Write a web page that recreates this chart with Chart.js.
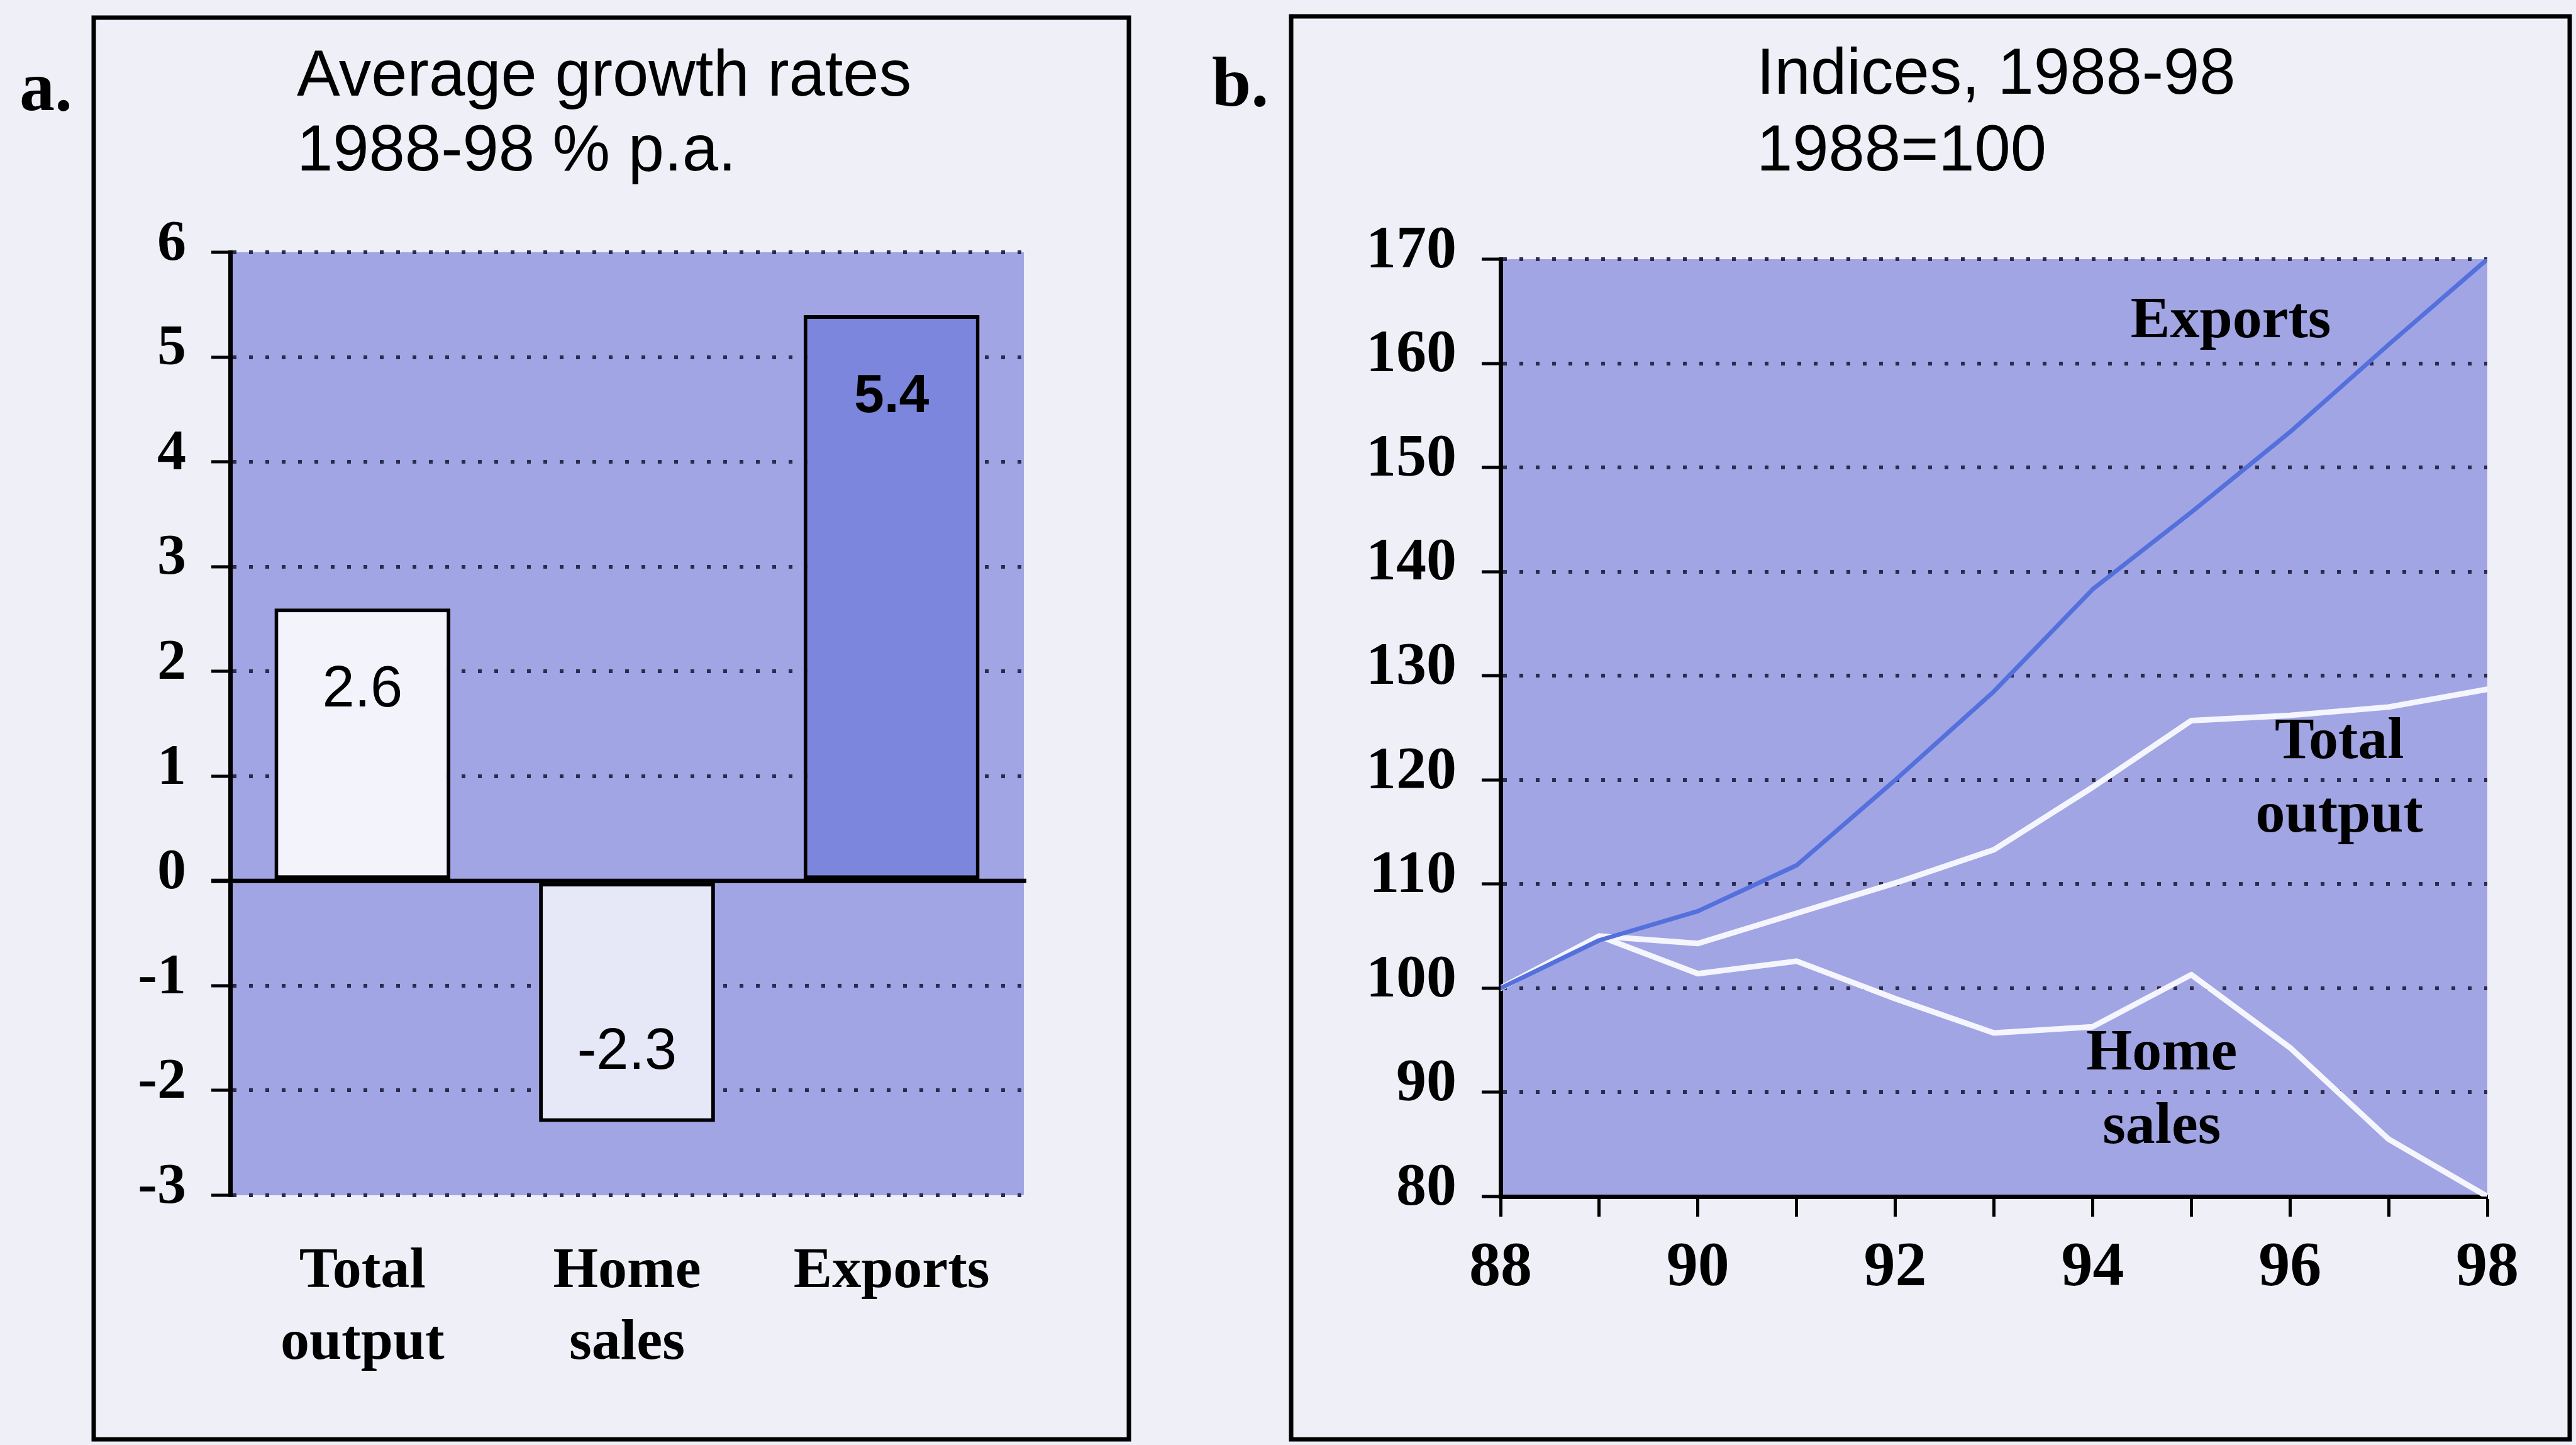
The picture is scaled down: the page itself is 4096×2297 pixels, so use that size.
<!DOCTYPE html>
<html>
<head>
<meta charset="utf-8">
<title>Growth rates and indices, 1988-98</title>
<script src="https://cdn.jsdelivr.net/npm/chart.js@4.4.1/dist/chart.umd.min.js"></script>
<style>
  html, body { margin: 0; padding: 0; width: 4096px; height: 2297px; overflow: hidden; background: #efeff8; }
  canvas { position: absolute; top: 0; }
  #growth { left: 0; }
  #indices { left: 1880px; }
</style>
</head>
<body>
<canvas id="growth" width="1880" height="2297"></canvas>
<canvas id="indices" width="2216" height="2297"></canvas>
<script>
// ---- Panel a: average growth rates 1988-98, % p.a. ----
const growthCategories = [['Total', 'output'], ['Home', 'sales'], ['Exports']];
const growthRates = [2.6, -2.3, 5.4];
const growthTickValues = [-3, -2, -1, 0, 1, 2, 3, 4, 5, 6];
const growthTickLabels = ['-3', '-2', '-1', '0', '1', '2', '3', '4', '5', '6'];

// ---- Panel b: indices, 1988 = 100 ----
const years = [88, 89, 90, 91, 92, 93, 94, 95, 96, 97, 98];
const yearTickLabels = ['88', '', '90', '', '92', '', '94', '', '96', '', '98'];
const exportsIndex = [100, 104.6, 107.4, 111.8, 120, 128.5, 138.3, 145.7, 153.4, 161.8, 170];
const totalOutputIndex = [100, 105, 104.3, 107.2, 110.1, 113.3, 119.3, 125.7, 126.2, 127, 128.7];
const homeSalesIndex = [100, 105, 101.4, 102.6, 99, 95.7, 96.3, 101.3, 94.3, 85.5, 80];
const indexTickValues = [80, 90, 100, 110, 120, 130, 140, 150, 160, 170];
const indexTickLabels = ['80', '90', '100', '110', '120', '130', '140', '150', '160', '170'];

// ---- shared styling ----
const PLOT_BG = '#a1a5e4';
const DOTS = '#2e2a4c';
const INK = '#000000';
const SERIF = "'Liberation Serif', 'Times New Roman', serif";
const SANS = "'Liberation Sans', Arial, Helvetica, sans-serif";
const tickFont = { family: SERIF, weight: 'bold', size: 92, lineHeight: 1.23 };
const indexTickFont = { family: SERIF, weight: 'bold', size: 96 };
const yearTickFont = { family: SERIF, weight: 'bold', size: 100 };

// fills the plotting area, draws the panel frame, letter and heading
const panelFrame = {
  id: 'panelFrame',
  beforeDraw(chart, args, o) {
    const { ctx, chartArea: a } = chart;
    ctx.save();
    ctx.fillStyle = PLOT_BG;
    ctx.fillRect(a.left, a.top, a.right - a.left, a.bottom - a.top);
    ctx.restore();
  },
  afterDraw(chart, args, o) {
    const ctx = chart.ctx;
    ctx.save();
    ctx.strokeStyle = INK;
    ctx.lineWidth = 7;
    const [x1, y1, x2, y2] = o.box;
    ctx.strokeRect(x1, y1, x2 - x1, y2 - y1);
    ctx.fillStyle = INK;
    ctx.textBaseline = 'alphabetic';
    ctx.textAlign = 'left';
    ctx.font = `bold 112px ${SERIF}`;
    ctx.fillText(o.letter, o.letterPos[0], o.letterPos[1]);
    ctx.font = `103px ${SANS}`;
    o.title.forEach((line, i) => ctx.fillText(line, o.titlePos[0], o.titlePos[1] + i * o.titleStep));
    ctx.restore();
  }
};

// solid zero line and value labels inside the bars
const barExtras = {
  id: 'barExtras',
  afterDatasetsDraw(chart, args, o) {
    const { ctx, chartArea: a } = chart;
    const y0 = chart.scales.y.getPixelForValue(0);
    ctx.save();
    ctx.strokeStyle = INK;
    ctx.lineWidth = 7;
    ctx.beginPath();
    ctx.moveTo(a.left - 30, y0);
    ctx.lineTo(a.right + 4, y0);
    ctx.stroke();
    const meta = chart.getDatasetMeta(0);
    ctx.fillStyle = INK;
    ctx.textAlign = 'center';
    ctx.textBaseline = 'middle';
    meta.data.forEach((bar, i) => {
      const v = growthRates[i];
      const bold = i === o.boldIndex;
      ctx.font = bold ? `bold 86px ${SANS}` : `92px ${SANS}`;
      const ty = v >= 0 ? bar.y + o.insetPos : bar.y - o.insetNeg;
      ctx.fillText(v.toFixed(1), bar.x, ty);
    });
    ctx.restore();
  }
};

// names written next to the lines, anchored in data units
const lineNames = {
  id: 'lineNames',
  afterDatasetsDraw(chart, args, o) {
    const { ctx, scales: { x, y } } = chart;
    ctx.save();
    ctx.fillStyle = INK;
    ctx.font = `bold 94px ${SERIF}`;
    ctx.textAlign = 'center';
    ctx.textBaseline = 'alphabetic';
    o.items.forEach(item => {
      const px = x.getPixelForValue(item.at[0]);
      const py = y.getPixelForValue(item.at[1]);
      item.lines.forEach((t, i) => ctx.fillText(t, px, py + i * o.step));
    });
    ctx.restore();
  }
};

const baseOptions = {
  responsive: false,
  animation: false,
  devicePixelRatio: 1,
  events: [],
};

new Chart(document.getElementById('growth'), {
  type: 'bar',
  data: {
    labels: growthCategories,
    datasets: [{
      data: growthRates,
      backgroundColor: ['#f3f3fb', '#e6e8f8', '#7b86dc'],
      borderColor: INK,
      borderWidth: 6,
      borderSkipped: false,
      barPercentage: 0.665,
      categoryPercentage: 1
    }]
  },
  options: {
    ...baseOptions,
    layout: { padding: { top: 401, right: 252, left: 0, bottom: 0 } },
    plugins: {
      legend: { display: false },
      tooltip: { enabled: false },
      panelFrame: {
        box: [149, 28, 1795, 2288],
        letter: 'a.', letterPos: [31, 175],
        title: ['Average growth rates', '1988-98 % p.a.'], titlePos: [472, 152], titleStep: 119
      },
      barExtras: { boldIndex: 2, insetPos: 130, insetNeg: 110 }
    },
    scales: {
      x: {
        grid: { display: false },
        border: { display: false },
        ticks: { font: tickFont, color: INK, padding: 58, maxRotation: 0, autoSkip: false },
        afterFit(s) { s.height = 397; }
      },
      y: {
        min: -3, max: 6,
        afterBuildTicks(s) { s.ticks = growthTickValues.map(v => ({ value: v })); },
        grid: {
          color: c => (c.tick && c.tick.value === 0) ? 'rgba(0,0,0,0)' : DOTS,
          lineWidth: 6, tickLength: 30, tickWidth: 5, tickColor: INK, tickBorderDash: []
        },
        border: { display: true, color: INK, width: 7, dash: [6, 20] },
        ticks: {
          font: tickFont, color: INK, padding: 40, labelOffset: -12,
          callback: (v, i) => growthTickLabels[i]
        },
        afterFit(s) { s.width = 366; }
      }
    }
  },
  plugins: [panelFrame, barExtras]
});

const toPoints = arr => years.map((yr, i) => ({ x: yr, y: arr[i] }));

new Chart(document.getElementById('indices'), {
  type: 'line',
  data: {
    datasets: [
      { label: 'Exports', data: toPoints(exportsIndex), borderColor: '#5470dc', borderWidth: 7 },
      { label: 'Total output', data: toPoints(totalOutputIndex), borderColor: '#f5f5fd', borderWidth: 9 },
      { label: 'Home sales', data: toPoints(homeSalesIndex), borderColor: '#f5f5fd', borderWidth: 9 }
    ]
  },
  options: {
    ...baseOptions,
    layout: { padding: { top: 412, right: 141, left: 0, bottom: 0 } },
    elements: {
      point: { radius: 0 },
      line: { tension: 0, borderJoinStyle: 'round', borderCapStyle: 'round', fill: false }
    },
    plugins: {
      legend: { display: false },
      tooltip: { enabled: false },
      panelFrame: {
        box: [173, 26, 2206, 2288],
        letter: 'b.', letterPos: [47, 168],
        title: ['Indices, 1988-98', '1988=100'], titlePos: [913, 149], titleStep: 122
      },
      lineNames: {
        step: 117,
        items: [
          { lines: ['Exports'], at: [95.4, 162.5] },
          { lines: ['Total', 'output'], at: [96.5, 122.1] },
          { lines: ['Home', 'sales'], at: [94.7, 92.2] }
        ]
      }
    },
    scales: {
      x: {
        type: 'linear', min: 88, max: 98,
        afterBuildTicks(s) { s.ticks = years.map(v => ({ value: v })); },
        grid: { drawOnChartArea: false, drawTicks: true, tickLength: 32, tickWidth: 5, tickColor: INK },
        border: { display: true, color: INK, width: 7 },
        ticks: {
          font: yearTickFont, color: INK, padding: 22, maxRotation: 0, autoSkip: false,
          callback: (v, i) => yearTickLabels[i]
        },
        afterFit(s) { s.height = 395; }
      },
      y: {
        min: 80, max: 170,
        afterBuildTicks(s) { s.ticks = indexTickValues.map(v => ({ value: v })); },
        grid: {
          color: c => (c.tick && c.tick.value === 80) ? 'rgba(0,0,0,0)' : DOTS,
          lineWidth: 6, tickLength: 30, tickWidth: 5, tickColor: INK, tickBorderDash: []
        },
        border: { display: true, color: INK, width: 7, dash: [6, 20] },
        ticks: {
          font: indexTickFont, color: INK, padding: 40, labelOffset: -12,
          callback: (v, i) => indexTickLabels[i]
        },
        afterFit(s) { s.width = 506; }
      }
    }
  },
  plugins: [panelFrame, lineNames]
});
</script>
</body>
</html>
